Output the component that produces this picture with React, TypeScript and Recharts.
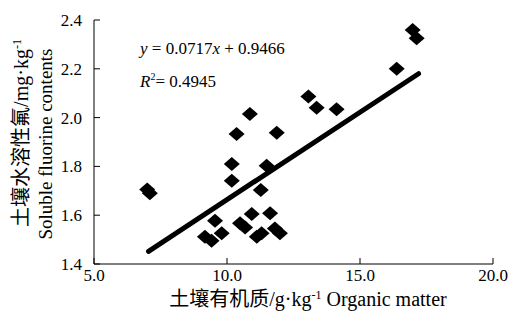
import { ScatterChart, Scatter, XAxis, YAxis, Label } from 'recharts'

// organic matter (g/kg) vs soluble fluorine (mg/kg)
const organicMatter = [7.0, 7.1, 9.17, 9.42, 9.8, 9.55, 10.18, 10.18, 10.36, 10.49, 10.68, 10.86, 10.93, 11.12, 11.3, 11.27, 11.49, 11.62, 11.87, 11.8, 11.99, 13.06, 13.37, 14.12, 16.38, 16.98, 17.13]
const fluorine = [1.705, 1.69, 1.512, 1.495, 1.526, 1.577, 1.81, 1.741, 1.933, 1.567, 1.55, 2.015, 1.605, 1.512, 1.526, 1.703, 1.803, 1.608, 1.938, 1.546, 1.526, 2.086, 2.04, 2.034, 2.2, 2.359, 2.325]

const xTicks = [5, 10, 15, 20]
const yTicks = [1.4, 1.6, 1.8, 2.0, 2.2, 2.4]

const slope = 0.0717
const intercept = 0.9466
const fitRange = [7.05, 17.2]

const points = organicMatter.map((x, i) => ({ x, y: fluorine[i] }))
const fitLine = fitRange.map(x => ({ x, y: slope * x + intercept }))

const FONT = "'Liberation Serif', 'Noto Sans CJK SC', serif"

const Diamond = (props: any) => {
    const { cx, cy } = props
    if (cx == null || cy == null) return null
    return (
        <polygon
            points={`${cx - 8},${cy} ${cx},${cy - 7} ${cx + 8},${cy} ${cx},${cy + 7}`}
            fill="#000"
        />
    )
}

const XTick = (props: any) => (
    <text x={props.x} y={props.y} dy="0.75em" textAnchor="middle" fontSize={17} fontFamily={FONT} fill="#000">
        {Number(props.payload.value).toFixed(1)}
    </text>
)

const YTick = (props: any) => (
    <text x={props.x} y={props.y} dy="0.35em" textAnchor="end" fontSize={17} fontFamily={FONT} fill="#000">
        {Number(props.payload.value).toFixed(1)}
    </text>
)

export default function App() {
    return (
        <div style={{ position: 'absolute', left: 0, top: 0, background: '#fff' }}>
            <ScatterChart width={516} height={325} margin={{ top: 20, right: 23, bottom: 0, left: 0 }}>
                <XAxis
                    type="number"
                    dataKey="x"
                    domain={[5, 20]}
                    ticks={xTicks}
                    height={61}
                    stroke="#000"
                    tickSize={-6}
                    tickMargin={10}
                    tick={XTick}
                >
                    <Label
                        content={() => (
                            <text x={308} y={306} textAnchor="middle" fontSize={20} fontFamily={FONT} fill="#000">
                                土壤有机质/g·kg<tspan fontSize={12} dy={-7}>-1</tspan>
                                <tspan dy={7}> Organic matter</tspan>
                            </text>
                        )}
                    />
                </XAxis>
                <YAxis
                    type="number"
                    dataKey="y"
                    domain={[1.4, 2.4]}
                    ticks={yTicks}
                    width={94}
                    stroke="#000"
                    tickSize={-6}
                    tickMargin={18}
                    tick={YTick}
                >
                    <Label
                        content={() => (
                            <g fontFamily={FONT} fill="#000">
                                <text x={28} y={133} fontSize={20} textAnchor="middle" transform="rotate(-90 28 133)">
                                    土壤水溶性氟/mg·kg<tspan fontSize={12} dy={-7}>-1</tspan>
                                </text>
                                <text x={52} y={144} fontSize={19} textAnchor="middle" transform="rotate(-90 52 144)">
                                    Soluble fluorine contents
                                </text>
                                <text x={140} y={54} fontSize={17}>
                                    <tspan fontStyle="italic">y</tspan> = 0.0717<tspan fontStyle="italic">x</tspan> + 0.9466
                                </text>
                                <text x={140} y={87} fontSize={17}>
                                    <tspan fontStyle="italic">R</tspan><tspan fontSize={10} dy={-7}>2</tspan><tspan dy={7}>= 0.4945</tspan>
                                </text>
                            </g>
                        )}
                    />
                </YAxis>
                <Scatter data={points} fill="#000" shape={Diamond} isAnimationActive={false} />
                <Scatter
                    data={fitLine}
                    line={{ stroke: '#000', strokeWidth: 5, strokeLinecap: 'round' }}
                    shape={() => null}
                    isAnimationActive={false}
                />
            </ScatterChart>
        </div>
    )
}
